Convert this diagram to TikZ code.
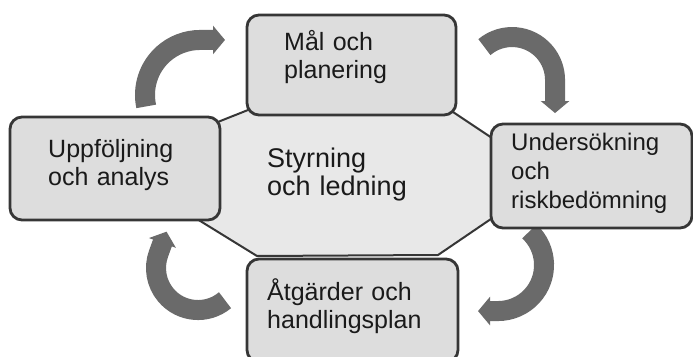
\documentclass[tikz,border=0pt]{standalone}
\usepackage{fontspec}
\setmainfont{Liberation Sans}
\usetikzlibrary{arrows.meta}
\definecolor{boxfill}{HTML}{DDDDDD}
\definecolor{centerfill}{HTML}{E8E8E8}
\definecolor{edge}{HTML}{363636}
\definecolor{arrowgray}{HTML}{6A6A6A}
\definecolor{ink}{HTML}{1A1A1A}
\begin{document}
\begin{tikzpicture}[x=1pt,y=-1pt,
  box/.style={draw=edge, line width=2.8pt, fill=boxfill, rounded corners=12pt, inner sep=0pt},
  txt/.style={font=\fontsize{25pt}{28.5pt}\selectfont, text=ink, text width=200pt, align=left, inner sep=0pt, anchor=base west},
  cyc/.style={draw=arrowgray, line width=20pt, -{Triangle[width=28pt,length=12pt]}}]
\useasboundingbox (0,0) rectangle (693,356);
\clip (0,0) rectangle (693,356);
\fill[white] (0,0) rectangle (693,356);
% central shape
\draw[draw=edge, line width=2pt, fill=centerfill, line join=round]
  (150,149) -- (248,110) -- (453,112) -- (510,150) -- (510,206) -- (438,255) -- (257,256) -- (150,190) -- cycle;
% cycle arrows
\draw[cyc] (146.2,106.4) arc[start angle=192, end angle=90, radius=55pt] -- ++(25,0);
\draw[cyc] (484.4,47.1) arc[start angle=130, end angle=0, radius=43pt] -- ++(0,33);
\draw[cyc] (529.4,231.4) arc[start angle=47, end angle=-90, radius=46pt] -- ++(-20,0);
\draw[cyc] (225,300.2) arc[start angle=-50, end angle=-200, radius=42pt] -- ++(8,-22);
% boxes
\node[box, minimum width=209pt, minimum height=100pt] (plan) at (351.5,65) {};
\node[box, minimum width=210pt, minimum height=103pt] (follow) at (115,168.5) {};
\node[box, minimum width=201pt, minimum height=104pt] (study) at (591.5,176) {};
\node[box, minimum width=211pt, minimum height=103pt] (act) at (352.5,310.5) {};
% texts
\node[txt] (plantext) at (284,50) {Mål och\\planering};
\node[txt] (followtext) at (48,157) {Uppföljning\\och analys};
\node[txt, font=\fontsize{27pt}{28.5pt}\selectfont] (centertext) at (267,167) {Styrning\\och ledning};
\node[txt, font=\fontsize{24pt}{29pt}\selectfont] (studytext) at (511,150) {Undersökning\\och\\riskbedömning};
\node[txt] (acttext) at (267,300) {Åtgärder och\\handlingsplan};
\end{tikzpicture}
\end{document}
